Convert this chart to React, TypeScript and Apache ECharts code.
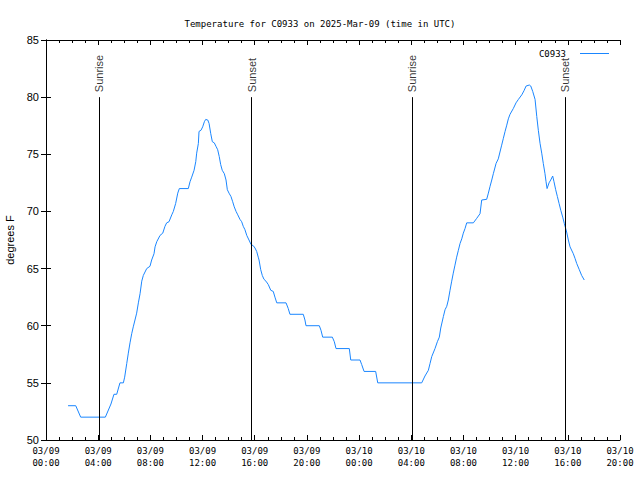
import React, { useEffect, useRef } from "react";
import * as echarts from "echarts";

// hours since 2025-03-09 00:00 UTC
const hours = [
  1.69, 2.28, 2.66, 4.55, 4.98, 5.21, 5.42, 5.67, 5.93, 6.03, 6.19, 6.31, 6.44, 6.57, 6.69, 6.82, 6.95, 7.08, 7.21, 7.34,
  7.46, 7.72, 7.97, 8.1, 8.28, 8.36, 8.49, 8.74, 8.95, 9.12, 9.25, 9.43, 9.64, 9.76, 9.94, 10.1, 10.22, 10.91, 11.04,
  11.17, 11.35, 11.48, 11.55, 11.68, 11.73, 11.88, 12.01, 12.14, 12.24, 12.4, 12.5, 12.63, 12.75, 12.9, 13.03, 13.16,
  13.28, 13.39, 13.51, 13.67, 13.8, 13.9, 14.03, 14.18, 14.31, 14.43, 14.57, 14.7, 14.87, 15.0, 15.12, 15.25, 15.39,
  15.56, 15.72, 15.89, 16.02, 16.15, 16.27, 16.33, 16.46, 16.58, 16.71, 16.86, 17.04, 17.23, 17.42, 17.55, 17.69, 18.4,
  18.57, 18.7, 19.72, 19.85, 19.93, 20.95, 21.08, 21.21, 21.95, 22.1, 22.23, 23.25, 23.36, 24.07, 24.2, 24.38, 25.27,
  25.43, 28.8, 29.05, 29.31, 29.44, 29.57, 29.82, 30.0, 30.15, 30.26, 30.46, 30.59, 30.72, 30.84, 30.97, 31.1, 31.22,
  31.35, 31.48, 31.61, 31.74, 31.87, 31.99, 32.12, 32.25, 32.76, 33.02, 33.27, 33.4, 33.78, 33.91, 34.04, 34.17, 34.29,
  34.5, 34.67, 34.8, 34.93, 35.06, 35.19, 35.32, 35.44, 35.57, 35.82, 36.03, 36.21, 36.47, 36.64, 36.8, 37.05, 37.16,
  37.31, 37.49, 37.62, 37.74, 37.87, 38.0, 38.12, 38.25, 38.33, 38.41, 38.56, 38.69, 38.84, 38.94, 39.07, 39.2, 39.33,
  39.46, 39.61, 39.73, 39.91, 40.04, 40.17, 40.42, 40.55, 40.68, 40.88, 41.06, 41.26,
];

const temps = [
  53, 53, 52, 52, 53.15, 54, 54, 55, 55, 55.5, 56.7, 57.6, 58.5, 59.3, 59.9, 60.5, 61.1, 62, 62.8, 63.9,
  64.4, 65, 65.2, 65.75, 66.3, 66.9, 67.35, 67.9, 68.1, 68.7, 69.0, 69.1, 69.7, 70, 70.7, 71.6, 72, 72, 72.6,
  73.0, 73.6, 74.35, 75.1, 75.95, 77, 77.1, 77.4, 77.85, 78.05, 78, 77.7, 76.8, 76.1, 76.0, 75.7, 75.4,
  74.8, 74.1, 73.6, 73.3, 72.75, 71.9, 71.6, 71.3, 70.85, 70.4, 70, 69.7, 69.3, 69.1, 68.7, 68.4, 67.9,
  67.5, 67.1, 67.0, 66.8, 66.5, 66.0, 65.75, 64.9, 64.4, 64.06, 63.9, 63.6, 63.1, 63.0, 62.5, 62.0, 62,
  61.5, 61.0, 61, 60.5, 60.0, 60, 59.6, 59.0, 59, 58.6, 58.0, 58, 57, 57, 56.6, 56.0, 56,
  55, 55, 55.6, 56.1, 56.7, 57.3, 58.0, 58.6, 59.0, 59.8, 60.8, 61.4, 61.7, 62.25, 63.1, 63.9, 64.6,
  65.3, 66.0, 66.6, 67.2, 67.6, 68.1, 68.5, 69.0, 69, 69.4, 69.8, 71.0, 71.06, 71.6, 72.2, 72.75, 73.3,
  74.2, 74.6, 75.2, 75.8, 76.4, 77.0, 77.55, 78.1, 78.5, 79.0, 79.5, 79.8, 80.2, 80.56, 80.97, 81.06, 80.97,
  80.5, 79.8, 78.3, 77.1, 75.96, 75.1, 74.2, 73.3, 72.6, 72.0, 72.5, 72.75, 73.1, 72.6, 71.9, 71.3, 70.7,
  70.1, 69.5, 68.95, 68.2, 67.5, 66.9, 66.3, 65.9, 65.45, 64.9, 64.4, 64.0,
];

const eventHours = [4.08, 15.77, 28.08, 39.81];
const eventLabels = ["Sunrise", "Sunset", "Sunrise", "Sunset"];
const eventTop = 80;

const xTickDates = ["03/09", "03/10"];
const yMin = 50;
const yMax = 85;

const MONO = "'DejaVu Sans Mono', monospace";
const SANS = "'Liberation Sans', Arial, sans-serif";

function fmtX(v: number): string {
  const day = Math.floor(v / 24);
  const hh = v - day * 24;
  const date = xTickDates[Math.min(day, xTickDates.length - 1)];
  return date + "\n" + String(hh).padStart(2, "0") + ":00";
}

export default function App() {
  const ref = useRef<HTMLDivElement>(null);
  useEffect(() => {
    if (!ref.current) return;
    const chart = echarts.init(ref.current, null, { renderer: "svg" });
    const lineData = hours.map((h, i) => [h, temps[i]]);
    const axisCommon = {
      type: "value" as const,
      axisLine: { show: true, lineStyle: { color: "#000", width: 1 } },
      splitLine: { show: false },
    };
    chart.setOption({
      animation: false,
      backgroundColor: "#fff",
      title: {
        text: "Temperature for C0933 on 2025-Mar-09 (time in UTC)",
        left: "center",
        top: 14,
        textStyle: { fontFamily: MONO, fontSize: 9, fontWeight: "normal", color: "#000" },
      },
      legend: {
        right: 26,
        top: 44,
        align: "right",
        itemWidth: 29,
        itemHeight: 1,
        textStyle: { fontFamily: MONO, fontSize: 9, color: "#000", padding: [0, 9, 0, 0] },
        data: [{ name: "C0933", icon: "rect" }],
      },
      grid: { left: 46, right: 20, top: 40, bottom: 40, outerBoundsMode: "none", containLabel: false },
      xAxis: [
        {
          ...axisCommon,
          min: 0,
          max: 44,
          interval: 4,
          position: "bottom",
          axisTick: { inside: true, length: 5, lineStyle: { color: "#000" } },
          minorTick: { show: true, splitNumber: 4, length: 3, lineStyle: { color: "#000" } },
          axisLabel: {
            formatter: fmtX,
            fontFamily: MONO,
            fontSize: 9,
            lineHeight: 12,
            color: "#000",
            margin: 5,
            showMinLabel: true,
            showMaxLabel: true,
          },
        },
        {
          ...axisCommon,
          min: 0,
          max: 44,
          interval: 4,
          position: "top",
          axisTick: { inside: true, length: 5, lineStyle: { color: "#000" } },
          minorTick: { show: true, splitNumber: 4, length: 3, lineStyle: { color: "#000" } },
          axisLabel: { show: false },
        },
      ],
      yAxis: [
        {
          ...axisCommon,
          min: yMin,
          max: yMax,
          interval: 5,
          position: "left",
          name: "degrees F",
          nameLocation: "middle",
          nameRotate: 90,
          nameGap: 30,
          nameTextStyle: { fontFamily: SANS, fontSize: 11, color: "#000" },
          axisTick: { inside: true, length: 5, lineStyle: { color: "#000" } },
          axisLabel: { fontFamily: SANS, fontSize: 11, color: "#000", margin: 7 },
        },
        {
          ...axisCommon,
          min: yMin,
          max: yMax,
          interval: 5,
          position: "right",
          axisTick: { inside: true, length: 5, lineStyle: { color: "#000" } },
          axisLabel: { show: false },
        },
      ],
      series: [
        {
          name: "C0933",
          type: "line",
          data: lineData,
          symbol: "none",
          lineStyle: { color: "#1a86ff", width: 1 },
          itemStyle: { color: "#1a86ff" },
          xAxisIndex: 0,
          yAxisIndex: 0,
        },
        {
          name: "events",
          type: "scatter",
          symbolSize: 0,
          data: eventHours.map((h, i) => ({ value: [h, eventTop], name: eventLabels[i] })),
          label: {
            show: true,
            formatter: "{b}",
            position: "top",
            distance: 5,
            rotate: 90,
            align: "left",
            verticalAlign: "middle",
            fontFamily: SANS,
            fontSize: 11,
            color: "#000",
          },
          markLine: {
            silent: true,
            symbol: ["none", "none"],
            label: { show: false },
            lineStyle: { color: "#000", width: 1, type: "solid" },
            data: eventHours.map((h) => [
              { coord: [h, yMin] },
              { coord: [h, eventTop] },
            ]),
          },
        },
      ],
    });
    return () => chart.dispose();
  }, []);
  return <div ref={ref} style={{ position: "fixed", left: 0, top: 0, width: 640, height: 480 }} />;
}
